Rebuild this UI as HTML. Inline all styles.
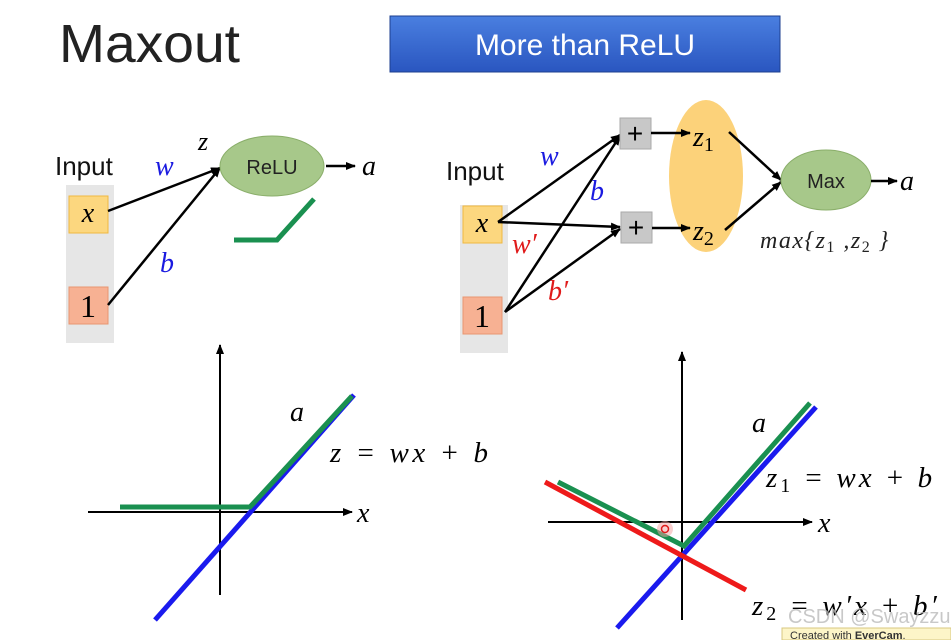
<!DOCTYPE html>
<html><head><meta charset="utf-8"><style>
html,body{margin:0;padding:0;background:#fff;}
svg{display:block;}
.m{font-family:"Liberation Serif",serif;font-style:italic;}
.s{font-family:"Liberation Sans",sans-serif;}
</style></head><body>
<svg width="951" height="640" viewBox="0 0 951 640" xmlns="http://www.w3.org/2000/svg">
<defs>
<marker id="ar" markerWidth="10" markerHeight="8" refX="9" refY="4" orient="auto" markerUnits="userSpaceOnUse"><path d="M0,0 L10,4 L0,8 z" fill="#000"/></marker>
<linearGradient id="bg" x1="0" y1="0" x2="0" y2="1"><stop offset="0" stop-color="#4a7fe0"/><stop offset="1" stop-color="#2a56c0"/></linearGradient>
</defs>
<text x="59" y="62" class="s" font-size="54" fill="#222" textLength="181" lengthAdjust="spacingAndGlyphs">Maxout</text>
<rect x="390" y="16" width="390" height="56" fill="url(#bg)" stroke="#1d3f8f"/>
<text x="585" y="55" class="s" font-size="30" fill="#fff" text-anchor="middle">More than ReLU</text>

<!-- left diagram -->
<text x="55" y="175" class="s" font-size="26" fill="#111">Input</text>
<rect x="66" y="185" width="48" height="158" fill="#e6e6e6"/>
<rect x="69" y="196" width="39" height="37" fill="#fcd77f" stroke="#f0b840"/>
<text x="88" y="222" class="m" font-size="28" text-anchor="middle">x</text>
<rect x="69" y="287" width="39" height="37" fill="#f7b193" stroke="#e89570"/>
<text x="88" y="317" font-family="Liberation Serif,serif" font-size="32" text-anchor="middle">1</text>
<line x1="108" y1="211" x2="220" y2="168" stroke="#000" stroke-width="2.5" marker-end="url(#ar)"/>
<line x1="108" y1="305" x2="220" y2="168" stroke="#000" stroke-width="2.5" marker-end="url(#ar)"/>
<text x="155" y="175" class="m" font-size="28" fill="#1a1ae0">w</text>
<text x="160" y="272" class="m" font-size="28" fill="#1a1ae0">b</text>
<text x="198" y="150" class="m" font-size="26">z</text>
<ellipse cx="272" cy="166" rx="52" ry="30" fill="#a7c88a" stroke="#8aae6a"/>
<text x="272" y="174" class="s" font-size="20" text-anchor="middle" fill="#222">ReLU</text>
<line x1="326" y1="166" x2="355" y2="166" stroke="#000" stroke-width="2.5" marker-end="url(#ar)"/>
<text x="362" y="175" class="m" font-size="28">a</text>
<polyline points="234,240 277,240 314,199" fill="none" stroke="#1a9050" stroke-width="5"/>

<!-- right diagram -->
<text x="446" y="180" class="s" font-size="26" fill="#111">Input</text>
<rect x="460" y="205" width="48" height="148" fill="#e6e6e6"/>
<rect x="463" y="206" width="39" height="37" fill="#fcd77f" stroke="#f0b840"/>
<text x="482" y="232" class="m" font-size="28" text-anchor="middle">x</text>
<rect x="463" y="297" width="39" height="37" fill="#f7b193" stroke="#e89570"/>
<text x="482" y="327" font-family="Liberation Serif,serif" font-size="32" text-anchor="middle">1</text>
<ellipse cx="706" cy="176" rx="37" ry="76" fill="#fcd27a"/>
<line x1="498" y1="222" x2="620" y2="135" stroke="#000" stroke-width="2.5" marker-end="url(#ar)"/>
<line x1="498" y1="222" x2="620" y2="227" stroke="#000" stroke-width="2.5" marker-end="url(#ar)"/>
<line x1="505" y1="312" x2="620" y2="136" stroke="#000" stroke-width="2.5" marker-end="url(#ar)"/>
<line x1="505" y1="312" x2="620" y2="229" stroke="#000" stroke-width="2.5" marker-end="url(#ar)"/>
<rect x="620" y="118" width="31" height="31" fill="#c8c8c8" stroke="#aaa"/>
<text x="635" y="143" class="s" font-size="28" text-anchor="middle">+</text>
<rect x="621" y="212" width="31" height="31" fill="#c8c8c8" stroke="#aaa"/>
<text x="636" y="237" class="s" font-size="28" text-anchor="middle">+</text>
<line x1="651" y1="133" x2="690" y2="133" stroke="#000" stroke-width="2.5" marker-end="url(#ar)"/>
<line x1="652" y1="228" x2="690" y2="228" stroke="#000" stroke-width="2.5" marker-end="url(#ar)"/>
<text x="693" y="146" class="m" font-size="28">z<tspan font-style="normal" font-size="20" dy="5">1</tspan></text>
<text x="693" y="240" class="m" font-size="28">z<tspan font-style="normal" font-size="20" dy="5">2</tspan></text>
<line x1="729" y1="132" x2="781" y2="180" stroke="#000" stroke-width="2.5" marker-end="url(#ar)"/>
<line x1="725" y1="230" x2="781" y2="182" stroke="#000" stroke-width="2.5" marker-end="url(#ar)"/>
<ellipse cx="826" cy="180" rx="45" ry="30" fill="#a7c88a" stroke="#8aae6a"/>
<text x="826" y="188" class="s" font-size="20" text-anchor="middle" fill="#222">Max</text>
<line x1="871" y1="181" x2="897" y2="181" stroke="#000" stroke-width="2.5" marker-end="url(#ar)"/>
<text x="900" y="190" class="m" font-size="28">a</text>
<text x="760" y="248" class="m" font-size="24" fill="#222" letter-spacing="1.5">max{z<tspan font-style="normal" font-size="16" dy="4">1</tspan><tspan dy="-4"> ,z</tspan><tspan font-style="normal" font-size="16" dy="4">2</tspan><tspan dy="-4"> }</tspan></text>
<text x="540" y="165" class="m" font-size="28" fill="#1a1ae0">w</text>
<text x="590" y="200" class="m" font-size="28" fill="#1a1ae0">b</text>
<text x="512" y="253" class="m" font-size="28" fill="#e01a1a">w′</text>
<text x="548" y="300" class="m" font-size="28" fill="#e01a1a">b′</text>

<!-- bottom-left plot -->
<line x1="220" y1="595" x2="220" y2="345" stroke="#000" stroke-width="2" marker-end="url(#ar)"/>
<line x1="88" y1="512" x2="352" y2="512" stroke="#000" stroke-width="2" marker-end="url(#ar)"/>
<text x="357" y="522" class="m" font-size="28">x</text>
<line x1="155" y1="620" x2="354" y2="395" stroke="#1a1aee" stroke-width="5"/>
<polyline points="120,507 250,507 352,396" fill="none" stroke="#1a9050" stroke-width="5"/>
<text x="290" y="421" class="m" font-size="28">a</text>
<text x="330" y="462" class="m" font-size="29" textLength="158" lengthAdjust="spacing">z = wx + b</text>

<!-- bottom-right plot -->
<line x1="682" y1="620" x2="682" y2="352" stroke="#000" stroke-width="2" marker-end="url(#ar)"/>
<line x1="548" y1="522" x2="812" y2="522" stroke="#000" stroke-width="2" marker-end="url(#ar)"/>
<text x="818" y="532" class="m" font-size="28">x</text>
<line x1="617" y1="628" x2="816" y2="407" stroke="#1a1aee" stroke-width="5"/>
<line x1="545" y1="482" x2="746" y2="590" stroke="#ee1a1a" stroke-width="5"/>
<polyline points="558,482 684,546 810,403" fill="none" stroke="#1a9050" stroke-width="5"/>
<circle cx="665" cy="529" r="8" fill="#f4a0a0" opacity="0.5"/>
<circle cx="665" cy="529" r="3.5" fill="none" stroke="#e01a1a" stroke-width="1.5"/>
<text x="752" y="432" class="m" font-size="28">a</text>
<text x="766" y="487" class="m" font-size="29" letter-spacing="3">z<tspan font-style="normal" font-size="20" dy="5">1</tspan><tspan dy="-5"> = wx + b</tspan></text>
<text x="752" y="615" class="m" font-size="29" letter-spacing="3">z<tspan font-style="normal" font-size="20" dy="5">2</tspan><tspan dy="-5"> = w′x + b′</tspan></text>
<text x="788" y="623" class="s" font-size="20" fill="#bbb" opacity="0.8">CSDN @Swayzzu</text>
<rect x="782" y="628" width="169" height="12" fill="#fdf5c8" stroke="#d8c880"/>
<text x="790" y="639" class="s" font-size="11" fill="#333">Created with <tspan font-weight="bold">EverCam</tspan>.</text>
</svg>
</body></html>
